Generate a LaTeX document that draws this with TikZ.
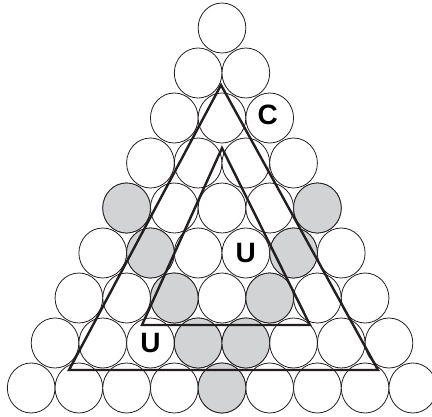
\documentclass[tikz,border=0pt]{standalone}
\usepackage{fontspec}
\setmainfont{Liberation Sans}
\usetikzlibrary{shapes.geometric}
\definecolor{grigio}{HTML}{D1D3D4}
\definecolor{tratto}{HTML}{231F20}
\begin{document}
\begin{tikzpicture}[x=1pt, y=-1pt,
      every node/.style={ellipse, draw=tratto, line width=0.8pt, fill=white, inner sep=0pt,
        minimum width=47.7pt, minimum height=50pt},
      grey/.style={fill=grigio},
      letter/.style={draw=none, fill=none, font=\fontsize{28}{28}\selectfont\bfseries},
      tri/.style={draw=tratto, line width=2.4pt, line join=miter}
    ]
    \useasboundingbox (0,0) rectangle (432,416);
    \clip (0,0) rectangle (432,416);
    % Palline
    \foreach \r in {1,...,9} {
      \foreach \k in {1,...,\r} {
        \node (b-\r-\k) at ({222+(\k-(\r+1)/2)*47.7}, {28+(\r-1)*45}) {};
      }
    }
    \foreach \r/\k in {5/1, 5/5, 6/2, 6/5, 7/3, 7/5, 8/4, 8/5, 9/5}
      \node[grey] (g-\r-\k) at (b-\r-\k) {};
    % Triangoli
    \coordinate (T1) at (221,85);
    \coordinate (T2) at (69,370);
    \coordinate (T3) at (378,370);
    \coordinate (t1) at (222,148);
    \coordinate (t2) at (142,325);
    \coordinate (t3) at (310,325);
    \draw[tri] (T1) -- (T2) -- (T3) -- cycle;
    \draw[tri] (t1) -- (t2) -- (t3) -- cycle;
    % Lettere
    \node[letter, xshift=-2pt, yshift=3pt] (lc) at (b-3-3) {C};
    \node[letter] (lu1) at (b-6-4) {U};
    \node[letter] (lu2) at (b-8-3) {U};
  \end{tikzpicture}
\end{document}
